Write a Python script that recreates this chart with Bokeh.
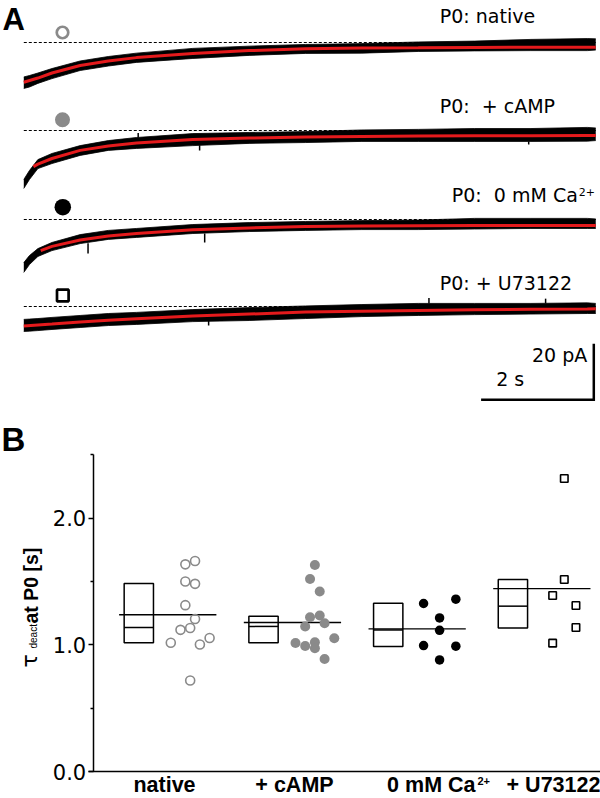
import math
from bokeh.plotting import figure
from bokeh.models import Range1d, Label, FixedTicker, PrintfTickFormatter, LinearAxis
from bokeh.embed import file_html
from bokeh.resources import INLINE

# ======================= DATA =======================
# ---- Panel A: tail currents at P0 (time in s, current in pA) ----
t_band = [0, 0.1, 0.25, 0.5, 1.0, 1.5, 2.0, 3.0, 4.0, 5.0, 6.0, 7.0, 8.0, 9.0, 10.0, 10.15]

native_hi = [-12.3, -11.8, -10.9, -9.3, -6.6, -5.0, -3.8, -2.1, -1.3, -0.7, -0.4, 0.2, 0.5, 1.1, 1.4, 1.3]
native_lo = [-16.4, -15.9, -14.6, -12.9, -10.0, -8.4, -7.1, -5.7, -4.6, -3.9, -3.8, -3.2, -3.0, -2.9, -2.9, -2.7]
camp_hi = [-17.5, -14.3, -10.4, -8.2, -5.4, -3.6, -2.5, -1.1, -0.7, -0.4, 0.2, 0.4, 0.7, 0.7, 1.1, 0.9]
camp_lo = [-20.7, -17.5, -13.6, -11.8, -8.9, -7.1, -6.4, -5.4, -4.6, -4.3, -3.9, -3.9, -3.9, -3.9, -3.8, -3.6]
ca_hi = [-15.4, -12.9, -10.4, -8.2, -5.4, -3.9, -3.2, -1.8, -1.1, -0.7, -0.4, -0.2, 0.4, 0.4, 0.4, 0.2]
ca_lo = [-18.9, -16.1, -13.2, -11.1, -8.6, -7.1, -6.4, -5.0, -4.3, -3.9, -3.6, -3.6, -3.4, -3.2, -3.2, -3.2]
u_hi = [-4.6, -4.5, -4.3, -3.9, -3.2, -2.5, -2.1, -1.1, -0.4, 0.2, 0.7, 1.1, 1.1, 1.1, 1.3, 1.1]
u_lo = [-8.9, -8.8, -8.6, -8.2, -7.5, -6.8, -6.4, -5.4, -5.0, -4.3, -3.6, -3.2, -2.9, -2.7, -2.5, -2.5]

native_fit_t = [0, 0.25, 0.5, 1, 1.5, 2, 3, 4, 5, 6, 7, 8, 9, 10, 10.15]
native_fit = [-14.2, -12.7, -10.9, -8.2, -6.6, -5.4, -3.9, -2.9, -2.2, -2.0, -1.9, -1.75, -1.7, -1.7, -1.7]
camp_fit_t = [0.17, 0.25, 0.5, 1, 1.5, 2, 3, 4, 5, 6, 7, 8, 9, 10, 10.15]
camp_fit = [-12.9, -12.0, -10.0, -7.1, -5.5, -4.5, -3.2, -2.7, -2.3, -2.1, -2.0, -1.9, -1.85, -1.8, -1.8]
ca_fit_t = [0.3, 0.5, 1, 1.5, 2, 3, 4, 5, 6, 7, 8, 9, 10, 10.15]
ca_fit = [-11.1, -9.6, -7.3, -5.9, -5.0, -3.7, -3.0, -2.5, -2.3, -2.2, -2.15, -2.1, -2.1, -2.1]
u_fit_t = [0, 0.25, 0.5, 1, 1.5, 2, 3, 4, 5, 6, 7, 8, 9, 10, 10.15]
u_fit = [-7.0, -6.6, -6.25, -5.5, -4.9, -4.4, -3.4, -2.7, -2.0, -1.7, -1.4, -1.2, -1.0, -0.9, -0.8]

# visible noise spikes: time, start, end (pA)
camp_spk_t = [2.03, 3.12, 8.96]
camp_spk_a = [-2.5, -5.3, -3.9]
camp_spk_b = [-0.9, -7.1, -5.0]
ca_spk_t = [1.14, 3.21]
ca_spk_a = [-8.5, -5.0]
ca_spk_b = [-12.1, -8.2]
u_spk_t = [3.28, 7.19, 9.26]
u_spk_a = [-5.2, 1.1, 1.1]
u_spk_b = [-6.8, 3.0, 2.8]

trace_labels = ["P0: native", "P0:\u00a0 + cAMP", "P0:\u00a0 0 mM Ca", "P0: + U73122"]
scale_pA = 20
scale_s = 2

# ---- Panel B: tau_deact at P0 [s] ----
groups = ["native", "+ cAMP", "0 mM Ca", "+ U73122"]
box_q1 = [1.016, 1.016, 0.987, 1.133]
box_med = [1.137, 1.145, 1.117, 1.305]
box_q3 = [1.484, 1.225, 1.327, 1.515]
means = [1.237, 1.176, 1.125, 1.444]

native_vals = [1.661, 1.635, 1.500, 1.481, 1.313, 1.204, 1.118, 1.133, 1.054, 1.016, 1.002, 0.718]
camp_vals = [1.630, 1.520, 1.421, 1.218, 1.231, 1.170, 1.144, 1.052, 1.014, 0.990, 1.020, 0.973, 0.888]
ca_vals = [1.326, 1.360, 1.212, 1.114, 0.994, 0.989, 0.881]
u_vals = [2.313, 1.515, 1.389, 1.310, 1.136, 1.013]
# horizontal spread of the dots (in units of half a dot)
native_dx = [1, -1, -1, 1, -1, 1, -2, 0, 4, -4, 2, 0]
camp_dx = [0, -1, 1, -1, 1, 2, -2, 4, -4, -2, 0, 0, 2]
ca_dx = [-3.3, 3.35, 0, 0, -3.3, 3.35, 0]
u_dx = [0, 0, -2.4, 2.4, 2.4, -2.4]

# ======================= LAYOUT =======================
W, H = 600, 798
PX_S = 56.35       # px per second
PX_PA = 2.8        # px per pA
X0 = 23.3          # x of t = 0
GAP = 124.7        # px per group in panel B
C0 = 166           # x of group 0
YB0 = 771.0        # y of tau = 0
PX_TAU = 126.7     # px per second of tau
RED = "#e41a1c"
GRAY = "#8a8a8a"
FONT = "DejaVu Sans"
BFONT = "Liberation Sans"


def at(px):
    return (px - X0) / PX_S


def ay(py):
    return -py / PX_PA


def bx(px):
    return (px - C0) / GAP


def by(py):
    return (YB0 - py) / PX_TAU


p = figure(width=W, height=H, output_backend="svg", toolbar_location=None,
           x_range=Range1d(0, W), y_range=Range1d(H, 0),
           x_axis_location=None, y_axis_location=None,
           min_border=0, outline_line_color=None)
p.grid.visible = False
p.extra_x_ranges = {"time": Range1d(at(0), at(W)), "grp": Range1d(bx(0), bx(W))}
p.extra_y_ranges = {"pA": Range1d(ay(H), ay(0)), "tau": Range1d(by(H), by(0))}

A = dict(x_range_name="time", y_range_name="pA")
B = dict(x_range_name="grp", y_range_name="tau")

# ---------------- Panel A ----------------
bases = [ay(42), ay(130), ay(219), ay(306)]
bands = [(native_hi, native_lo), (camp_hi, camp_lo), (ca_hi, ca_lo), (u_hi, u_lo)]
fits = [(native_fit_t, native_fit), (camp_fit_t, camp_fit), (ca_fit_t, ca_fit), (u_fit_t, u_fit)]
spikes = [None, (camp_spk_t, camp_spk_a, camp_spk_b), (ca_spk_t, ca_spk_a, ca_spk_b),
          (u_spk_t, u_spk_a, u_spk_b)]

for i in range(4):
    b = bases[i]
    p.line([t_band[0], t_band[-1]], [b, b], line_color="black", line_width=1,
           line_dash="3 2", **A)
    hi, lo = bands[i]
    p.varea(x=t_band, y1=[b + v for v in lo], y2=[b + v for v in hi], fill_color="black", **A)
    p.line(t_band, [b + v for v in hi], line_color="black", line_width=0.8, **A)
    p.line(t_band, [b + v for v in lo], line_color="black", line_width=0.8, **A)
    if spikes[i] is not None:
        st, sa, sb = spikes[i]
        p.segment(x0=st, y0=[b + v for v in sa], x1=st, y1=[b + v for v in sb],
                  line_color="black", line_width=1.5, **A)
    ft, fv = fits[i]
    p.line(ft, [b + v for v in fv], line_color=RED, line_width=3, **A)

# condition symbols
p.scatter([62], [32], marker="circle", size=11.5, fill_color=None,
          line_color=GRAY, line_width=2.7)
p.scatter([62], [119.3], marker="circle", size=15, fill_color=GRAY, line_color=None)
p.scatter([62.3], [206.7], marker="circle", size=16.5, fill_color="black", line_color=None)
p.scatter([62.3], [295], marker="square", size=11.6, fill_color=None,
          line_color="black", line_width=2.7)

lab_base = [26, 116.7, 205, 293.3]
for i, txt in enumerate(trace_labels):
    if i == 2:
        p.add_layout(Label(x=577.3, y=lab_base[i], text=txt, text_align="right",
                           text_font=FONT, text_font_size="19px", text_color="black"))
        p.add_layout(Label(x=578.3, y=195, text="2+", text_font=FONT,
                           text_font_size="11px", text_color="black"))
    else:
        p.add_layout(Label(x=439.3, y=lab_base[i], text=txt,
                           text_font=FONT, text_font_size="19px", text_color="black"))

# scale bar (20 pA, 2 s)
sb_t = at(593.3)
sb_y = ay(399.3)
p.line([sb_t - scale_s, sb_t, sb_t], [sb_y, sb_y, sb_y + scale_pA], line_color="black",
       line_width=2.5, line_join="miter", **A)
p.add_layout(Label(x=586.7, y=365, text=f"{scale_pA} pA", text_align="right",
                   text_font=FONT, text_font_size="19px", text_color="black"))
p.add_layout(Label(x=495.7, y=389.3, text=f"{scale_s} s",
                   text_font=FONT, text_font_size="19px", text_color="black"))
p.add_layout(Label(x=2, y=1, text="A", text_baseline="top", text_font=BFONT,
                   text_font_style="bold", text_font_size="31px", text_color="black"))

# ---------------- Panel B ----------------
yax = LinearAxis(x_range_name="grp", y_range_name="tau", fixed_location=bx(92.7),
                 bounds=(0, 2.5))
yax.ticker = FixedTicker(ticks=[0, 1, 2], minor_ticks=[0.5, 1.5, 2.5])
yax.formatter = PrintfTickFormatter(format="%.1f")
yax.major_tick_out = 5
yax.major_tick_in = 0
yax.minor_tick_out = 3
yax.minor_tick_in = 0
yax.axis_line_width = 1.5
yax.major_tick_line_width = 1.5
yax.minor_tick_line_width = 1.5
yax.major_label_text_font = FONT
yax.major_label_text_font_size = "21px"
yax.major_label_text_color = "black"
yax.major_label_standoff = 2
p.add_layout(yax, "left")

xax = LinearAxis(x_range_name="grp", y_range_name="tau", fixed_location=0,
                 bounds=(bx(88), bx(600)))
xax.ticker = FixedTicker(ticks=[])
xax.major_tick_line_color = None
xax.minor_tick_line_color = None
xax.major_label_text_font_size = "0px"
xax.axis_line_width = 1.5
p.add_layout(xax, "below")

BOX_OFF = 0.222
BOX_HALF = 0.1175
PT_OFF = 0.19
STEP = 0.0389
for g in range(4):
    c = g - BOX_OFF
    p.quad(left=[c - BOX_HALF], right=[c + BOX_HALF], bottom=[box_q1[g]], top=[box_q3[g]],
           fill_color=None, line_color="black", line_width=1.5, **B)
    p.segment(x0=[c - BOX_HALF], y0=[box_med[g]], x1=[c + BOX_HALF], y1=[box_med[g]],
              line_color="black", line_width=1.5, **B)
    p.segment(x0=[g - 0.38], y0=[means[g]], x1=[g + 0.40], y1=[means[g]],
              line_color="black", line_width=1.3, **B)

p.scatter([PT_OFF + d * STEP for d in native_dx], native_vals, marker="circle", size=9,
          fill_color=None, line_color=GRAY, line_width=1.6, **B)
p.scatter([1 + PT_OFF + d * STEP for d in camp_dx], camp_vals, marker="circle", size=10,
          fill_color=GRAY, line_color=None, **B)
p.scatter([2 + PT_OFF + d * STEP for d in ca_dx], ca_vals, marker="circle", size=9.5,
          fill_color="black", line_color=None, **B)
p.scatter([3 + PT_OFF + d * STEP for d in u_dx], u_vals, marker="square", size=7.5,
          fill_color=None, line_color="black", line_width=1.6, **B)

# group labels
lab_kw = dict(text_font=BFONT, text_font_style="bold", text_font_size="21.5px",
              text_color="black")
p.add_layout(Label(x=164, y=796, text=groups[0], text_align="center", **lab_kw))
p.add_layout(Label(x=294, y=796, text=groups[1], text_align="center", **lab_kw))
p.add_layout(Label(x=475, y=796, text=groups[2], text_align="right", **lab_kw))
p.add_layout(Label(x=477, y=784, text="2+", text_font=BFONT, text_font_style="bold",
                   text_font_size="11px", text_color="black"))
p.add_layout(Label(x=553, y=796, text=groups[3], text_align="center", **lab_kw))

# y-axis title: tau_deact at P0 [s]
p.add_layout(Label(x=41, y=667, text="\u03c4", angle=math.pi / 2,
                   text_font=FONT, text_font_size="22px", text_color="black"))
p.add_layout(Label(x=38.5, y=648, text="deact", angle=math.pi / 2,
                   text_font=BFONT, text_font_size="10px", text_color="black"))
p.add_layout(Label(x=41.7, y=623, text="at P0 [s]", angle=math.pi / 2,
                   text_font=BFONT, text_font_style="bold", text_font_size="19.5px",
                   text_color="black"))
p.add_layout(Label(x=1, y=457, text="B", text_font=BFONT, text_font_style="bold",
                   text_font_size="33px", text_color="black"))

open("out.html", "w").write(file_html(p, INLINE))
